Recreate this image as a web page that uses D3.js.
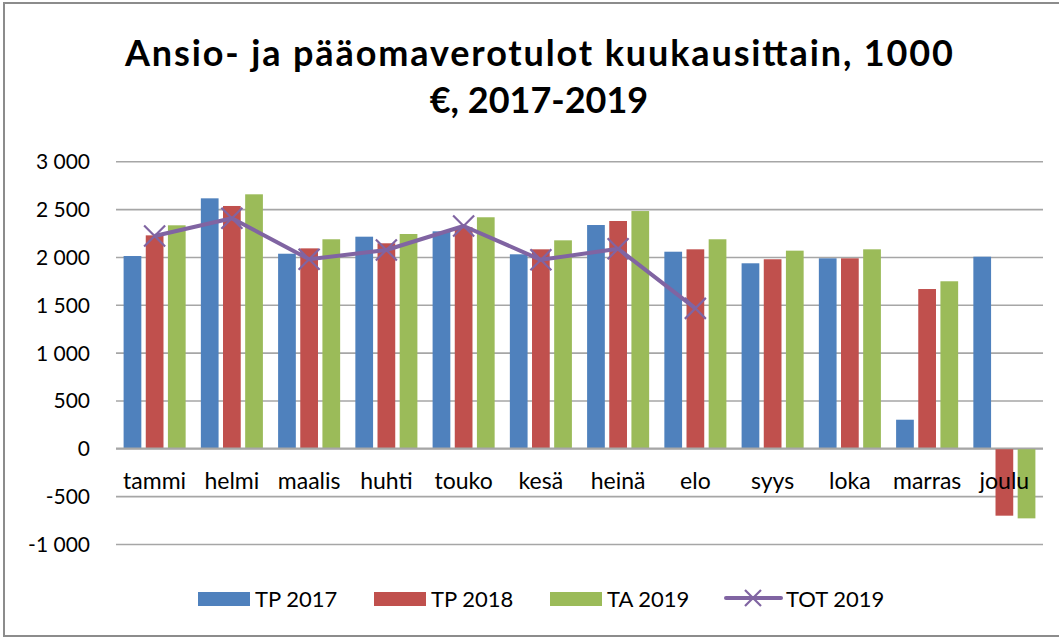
<!DOCTYPE html>
<html>
<head>
<meta charset="utf-8">
<script src="https://cdn.jsdelivr.net/npm/d3@7"></script>
<style>
  body { margin: 0; background: #fff; }
  svg text { font-family: Lato, "Open Sans", sans-serif; fill: #000; }
</style>
</head>
<body>
<svg id="chart" width="1059" height="637"></svg>
<script>
const months = ["tammi", "helmi", "maalis", "huhti", "touko", "kesä", "heinä", "elo", "syys", "loka", "marras", "joulu"];
const tp2017 = [2010, 2613, 2034, 2212, 2268, 2028, 2334, 2055, 1934, 1986, 299, 2003];
const tp2018 = [2226, 2533, 2090, 2143, 2310, 2080, 2376, 2080, 1976, 1986, 1665, -704];
const ta2019 = [2331, 2655, 2185, 2240, 2415, 2174, 2480, 2185, 2066, 2080, 1746, -732];
const tot2019 = [2219, 2404, 1976, 2073, 2324, 1970, 2086, 1463];
const yTicks = [-1000, -500, 0, 500, 1000, 1500, 2000, 2500, 3000];
const barSeries = ["TP 2017", "TP 2018", "TA 2019"];
const lineSeries = "TOT 2019";
const colors = { "TP 2017": "#4f81bd", "TP 2018": "#c0504d", "TA 2019": "#9bbb59", "TOT 2019": "#8064a2" };

let svg = d3.select("#chart")
let margin = { top: 161, right: 16, bottom: 93, left: 116 }
let width = 1059, height = 637

// outer frame (right edge falls outside the picture)
svg.append("rect")
  .attr("x", 4).attr("y", 3)
  .attr("width", 1070).attr("height", 633)
  .style("fill", "none")
  .style("stroke", "#8c8c8c")
  .style("stroke-width", 2)

let x0 = d3.scaleBand()
  .domain(months)
  .range([margin.left, width - margin.right])

let x1 = d3.scaleBand()
  .domain(barSeries)
  .range([7.6, x0.bandwidth() - 7.6])
  .paddingInner(0.2)

let y = d3.scaleLinear()
  .domain([-1000, 3000])
  .range([544, 161.3])

let fmt = d3.formatLocale({ decimal: ",", thousands: "\u00a0", grouping: [3], currency: ["", " €"], minus: "-" }).format(",d")

let yAxis = d3.axisLeft(y)
  .tickValues(yTicks)
  .tickSize(-(width - margin.right - margin.left))
  .tickPadding(26)
  .tickFormat(fmt)

let yAxisG = svg.append("g")
  .attr("class", "y axis")
  .attr("transform", `translate(${margin.left},0)`)
  .call(yAxis)
yAxisG.select(".domain").remove()
yAxisG.selectAll(".tick line").style("stroke", "#a6a6a6").style("stroke-width", 1.6)
yAxisG.selectAll(".tick text").style("font-size", "21px").attr("dy", "0.35em")

// bars
let rows = months.map((m, i) => ({ month: m, values: [tp2017[i], tp2018[i], ta2019[i]] }))

svg.append("g")
  .selectAll("g")
  .data(rows)
  .join("g")
  .attr("transform", d => `translate(${x0(d.month)},0)`)
  .selectAll("rect")
  .data(d => d.values.map((v, j) => ({ key: barSeries[j], value: v })))
  .join("rect")
  .attr("x", d => x1(d.key))
  .attr("width", x1.bandwidth())
  .attr("y", d => y(Math.max(0, d.value)))
  .attr("height", d => Math.abs(y(d.value) - y(0)))
  .style("fill", d => colors[d.key])

// zero line on top of bars
svg.append("line")
  .attr("x1", margin.left).attr("x2", width - margin.right)
  .attr("y1", y(0)).attr("y2", y(0))
  .style("stroke", "#a6a6a6").style("stroke-width", 1.6)

// category labels just below zero
svg.append("g")
  .selectAll("text")
  .data(months)
  .join("text")
  .attr("x", d => x0(d) + x0.bandwidth() / 2)
  .attr("y", y(0) + 41)
  .attr("text-anchor", "middle")
  .style("font-size", "23px")
  .text(d => d)

// total line
let line = d3.line()
  .x((d, i) => x0(months[i]) + x0.bandwidth() / 2)
  .y(d => y(d))

svg.append("path")
  .datum(tot2019)
  .attr("d", line)
  .style("fill", "none")
  .style("stroke", colors[lineSeries])
  .style("stroke-width", 4)
  .style("stroke-linejoin", "round")

function cross(g, s) {
  g.append("path")
    .attr("d", `M${-s},${-s}L${s},${s}M${-s},${s}L${s},${-s}`)
    .style("stroke", colors[lineSeries])
    .style("stroke-width", 2.2)
}

svg.append("g")
  .selectAll("g")
  .data(tot2019)
  .join("g")
  .attr("transform", (d, i) => `translate(${x0(months[i]) + x0.bandwidth() / 2},${y(d)})`)
  .each(function () { cross(d3.select(this), 10.5) })

// title
let title = svg.append("text")
  .attr("text-anchor", "middle")
  .attr("x", 539)
  .style("font-size", "36px")
  .style("font-weight", "bold")
title.append("tspan").attr("x", 539).attr("y", 66)
  .attr("textLength", 828).attr("lengthAdjust", "spacing")
  .text("Ansio- ja pääomaverotulot kuukausittain, 1000")
title.append("tspan").attr("x", 539).attr("y", 113).text("€, 2017-2019")

// legend
let legendX = [198, 374, 550]
barSeries.forEach((s, i) => {
  svg.append("rect")
    .attr("x", legendX[i]).attr("y", 592)
    .attr("width", 52).attr("height", 14)
    .style("fill", colors[s])
  svg.append("text")
    .attr("x", legendX[i] + 57).attr("y", 607)
    .style("font-size", "22px")
    .text(s)
})

svg.append("line")
  .attr("x1", 726).attr("x2", 781)
  .attr("y1", 598).attr("y2", 598)
  .style("stroke", colors[lineSeries])
  .style("stroke-width", 4)
  .style("stroke-linecap", "round")
let lm = svg.append("g").attr("transform", "translate(753,598)")
cross(lm, 8)
svg.append("text")
  .attr("x", 786).attr("y", 607)
  .style("font-size", "22px")
  .text(lineSeries)
</script>
</body>
</html>
